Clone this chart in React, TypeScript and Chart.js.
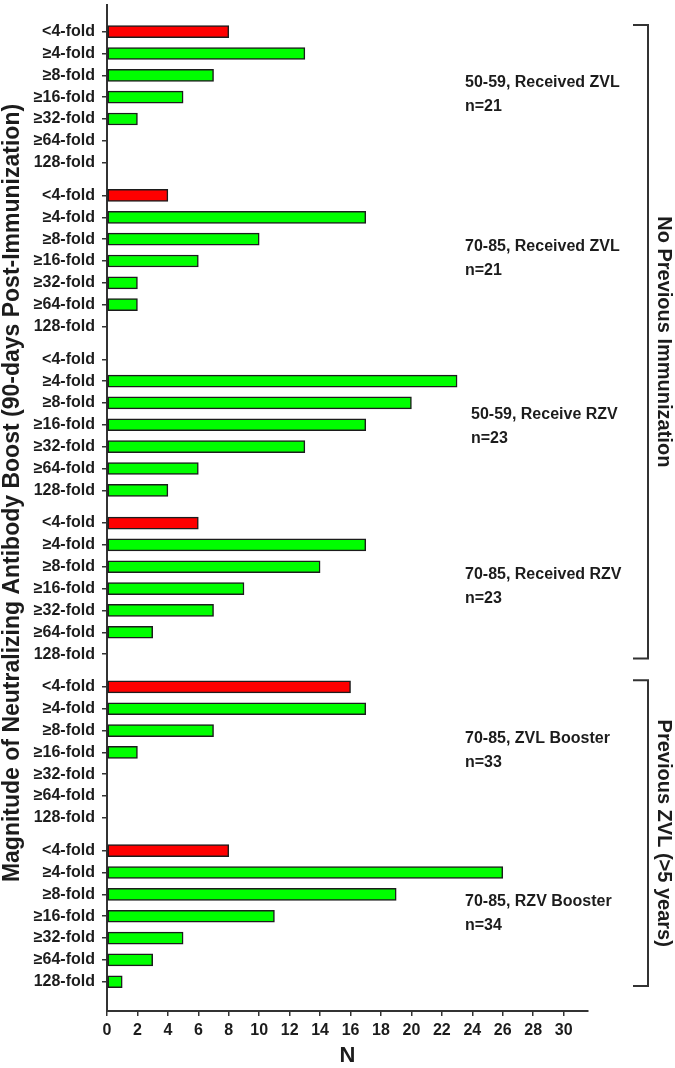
import React, { useEffect, useRef } from "react";
import { Chart, registerables } from "chart.js";

Chart.register(...registerables);

// ---------- data ----------
const foldLabels = ["<4-fold", "≥4-fold", "≥8-fold", "≥16-fold", "≥32-fold", "≥64-fold", "128-fold"];
const groupNames = [
  "50-59, Received ZVL",
  "70-85, Received ZVL",
  "50-59, Receive RZV",
  "70-85, Received RZV",
  "70-85, ZVL Booster",
  "70-85, RZV Booster",
];
const groupN = ["n=21", "n=21", "n=23", "n=23", "n=33", "n=34"];
const g1Values = [8, 13, 7, 5, 2, 0, 0];
const g2Values = [4, 17, 10, 6, 2, 2, 0];
const g3Values = [0, 23, 20, 17, 13, 6, 4];
const g4Values = [6, 17, 14, 9, 7, 3, 0];
const g5Values = [16, 17, 7, 2, 0, 0, 0];
const g6Values = [8, 26, 19, 11, 5, 3, 1];
const groupValues = [g1Values, g2Values, g3Values, g4Values, g5Values, g6Values];
const xTickValues = [0, 2, 4, 6, 8, 10, 12, 14, 16, 18, 20, 22, 24, 26, 28, 30];
const bracketTitles = ["No Previous Immunization", "Previous ZVL (>5 years)"];
const bracketGroupRanges = [
  [0, 3],
  [4, 5],
];
const yAxisTitle = "Magnitude of Neutralizing Antibody Boost (90-days Post-Immunization)";
const xAxisTitle = "N";

// ---------- layout (not data) ----------
const GROUP_STEP = 7.5;
const FONT = '"Liberation Sans", Arial, Helvetica, sans-serif';
const RED = "#ff0000";
const GREEN = "#00ff00";
const INK = "#1c1c1c";

const rowPos = (g: number, i: number) => g * GROUP_STEP + i;

export default function App() {
  const ref = useRef<HTMLCanvasElement | null>(null);

  useEffect(() => {
    if (!ref.current) return;
    const positions: number[] = [];
    const points: { x: number; y: number }[] = [];
    const colors: string[] = [];
    groupValues.forEach((vals, g) => {
      vals.forEach((v, i) => {
        positions.push(rowPos(g, i));
        points.push({ x: v, y: rowPos(g, i) });
        colors.push(i === 0 ? RED : GREEN);
      });
    });

    const overlay = {
      id: "overlay",
      afterDraw(chart: any) {
        const { ctx } = chart;
        const ys = chart.scales.y;
        ctx.save();
        ctx.fillStyle = INK;
        // group annotations
        ctx.font = `bold 16px ${FONT}`;
        ctx.textAlign = "left";
        ctx.textBaseline = "middle";
        groupNames.forEach((name, g) => {
          const off = g === 2 ? 2.55 : 2.35;
          const x = g === 2 ? 471 : 465;
          ctx.fillText(name, x, ys.getPixelForValue(rowPos(g, off)));
          ctx.fillText(groupN[g], x, ys.getPixelForValue(rowPos(g, off + 1.1)));
        });
        // brackets
        const bx = 648;
        ctx.strokeStyle = "#333";
        ctx.lineWidth = 2;
        bracketGroupRanges.forEach(([a, b], k) => {
          const top = ys.getPixelForValue(rowPos(a, -0.3));
          const bot = ys.getPixelForValue(rowPos(b, 6.2));
          ctx.beginPath();
          ctx.moveTo(bx - 15, top);
          ctx.lineTo(bx, top);
          ctx.lineTo(bx, bot);
          ctx.lineTo(bx - 15, bot);
          ctx.stroke();
          ctx.save();
          ctx.translate(bx + 16, (top + bot) / 2);
          ctx.rotate(Math.PI / 2);
          ctx.font = `bold 20px ${FONT}`;
          ctx.textAlign = "center";
          ctx.textBaseline = "middle";
          ctx.fillText(bracketTitles[k], 0, 0);
          ctx.restore();
        });
        // y axis title
        ctx.save();
        ctx.translate(13, 493);
        ctx.rotate(-Math.PI / 2);
        ctx.font = `bold 23px ${FONT}`;
        ctx.textAlign = "center";
        ctx.textBaseline = "middle";
        ctx.fillText(yAxisTitle, 0, 0);
        ctx.restore();
        // x axis title
        ctx.font = `bold 22px ${FONT}`;
        ctx.textAlign = "center";
        ctx.textBaseline = "middle";
        ctx.fillText(xAxisTitle, (chart.chartArea.left + chart.chartArea.right) / 2, 1056);
        ctx.restore();
      },
    };

    const chart = new Chart(ref.current, {
      type: "bar",
      data: {
        datasets: [
          {
            data: points as any,
            backgroundColor: colors,
            borderColor: INK,
            borderWidth: 1.5,
            borderSkipped: false,
            barThickness: 12,
          },
        ],
      },
      options: {
        indexAxis: "y",
        animation: false,
        responsive: false,
        layout: { padding: { top: 5, right: 87, left: 0, bottom: 0 } },
        plugins: { legend: { display: false }, tooltip: { enabled: false } },
        scales: {
          y: {
            type: "linear",
            reverse: true,
            offset: false,
            min: -1.22,
            max: 44.84,
            afterBuildTicks: (scale: any) => {
              scale.ticks = positions.map((v) => ({ value: v }));
            },
            afterFit: (scale: any) => {
              scale.width = 107;
              scale.paddingTop = 0;
              scale.paddingBottom = 0;
            },
            ticks: {
              autoSkip: false,
              padding: 7,
              color: INK,
              font: { family: FONT, size: 16, weight: "bold" },
              callback: (_v: any, i: number) => foldLabels[i % 7],
            },
            grid: { offset: false, drawOnChartArea: false, drawTicks: true, tickLength: 5, color: "#333", lineWidth: 1.5 },
            border: { display: true, color: "#333", width: 2 },
          },
          x: {
            type: "linear",
            min: 0,
            max: 31.6,
            afterBuildTicks: (scale: any) => {
              scale.ticks = xTickValues.map((v) => ({ value: v }));
            },
            afterFit: (scale: any) => {
              scale.height = 57;
              scale.paddingLeft = 0;
              scale.paddingRight = 0;
            },
            ticks: {
              autoSkip: false,
              padding: 5,
              maxRotation: 0,
              color: INK,
              font: { family: FONT, size: 16, weight: "bold" },
            },
            grid: { drawOnChartArea: false, drawTicks: true, tickLength: 5, color: "#333", lineWidth: 1.5 },
            border: { display: true, color: "#333", width: 2 },
          },
        },
      },
      plugins: [overlay],
    });
    return () => chart.destroy();
  }, []);

  return (
    <div style={{ position: "absolute", left: 0, top: 0, width: 675, height: 1068, background: "#fff" }}>
      <canvas ref={ref} width={675} height={1068} style={{ display: "block" }} />
    </div>
  );
}
